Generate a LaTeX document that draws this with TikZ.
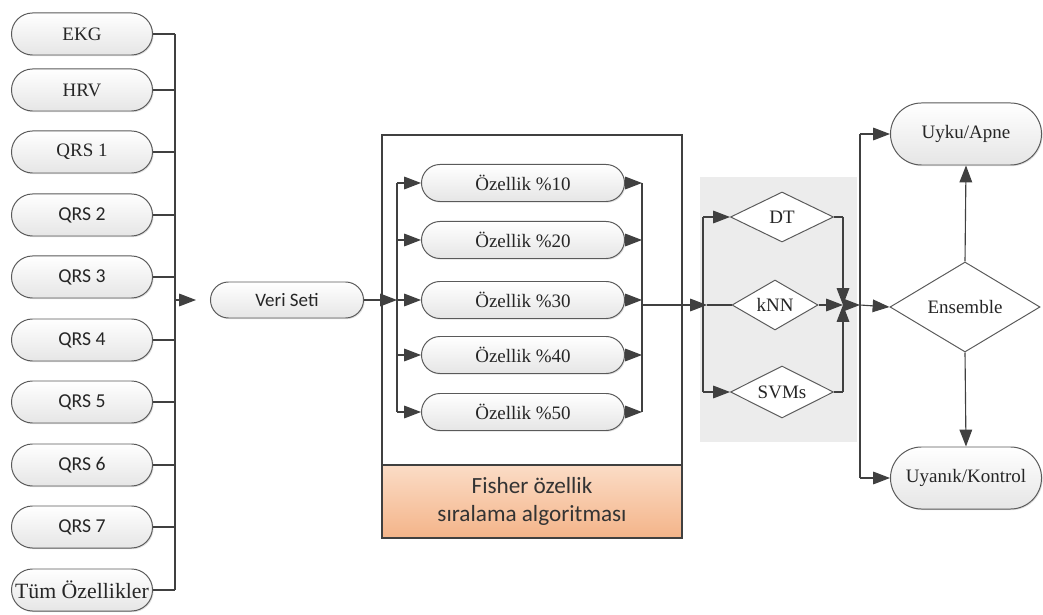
\documentclass[tikz,border=0pt]{standalone}
\usepackage{fontspec}
\setmainfont{Liberation Serif}
\setsansfont{Carlito}
\usepackage{tikz}
\usetikzlibrary{arrows.meta, shapes.misc, shapes.geometric, shadows}
\definecolor{linegray}{HTML}{404040}
\definecolor{boxgray}{HTML}{5A5A5A}
\definecolor{orangetop}{HTML}{FBDCC6}
\definecolor{orangebot}{HTML}{F4B489}
\definecolor{panelgray}{HTML}{ECECEC}
\tikzset{
  pill/.style={rounded rectangle, draw=boxgray, line width=0.7pt, top color=white, bottom color=gray!20,
    drop shadow={shadow xshift=0.8pt, shadow yshift=-0.8pt, opacity=0.25}, inner sep=0pt, text=black!85},
  featbox/.style={pill, minimum width=3.525cm, minimum height=1.05cm},
  pctbox/.style={pill, minimum width=5.075cm, minimum height=0.925cm},
  outbox/.style={pill, minimum width=3.775cm, minimum height=1.55cm},
  clf/.style={diamond, draw=boxgray, line width=0.7pt, fill=white, inner sep=0pt, aspect=2, text=black!85},
  serif/.style={font=\rmfamily\fontsize{13.5}{16}\selectfont},
  sans/.style={font=\sffamily\fontsize{14}{16}\selectfont},
  arr/.style={-{Triangle[length=12pt,width=9pt]}},
  conn/.style={draw=linegray, line width=0.8pt}
}
\begin{document}
\begin{tikzpicture}[x=0.025cm, y=-0.025cm]
\useasboundingbox (0,0) rectangle (1043,615);
\fill[panelgray] (700,177) rectangle (857,442);
\draw[draw=linegray, line width=0.8pt, fill=white] (382,135) rectangle (682,538);
\draw[draw=linegray, line width=0.8pt, top color=orangetop, bottom color=orangebot] (382,465) rectangle (682,538);
\node[font=\sffamily\fontsize{16.5}{20}\selectfont, align=center, text=black!80] (fisher) at (532,501) {Fisher özellik\\sıralama algoritması};

\node[featbox, serif] (ekg) at (82,34) {EKG};
\node[featbox, serif] (hrv) at (82,90) {HRV};
\node[featbox, serif] (qrs1) at (82,152) {QRS 1};
\node[featbox, sans] (qrs2) at (82,215) {QRS 2};
\node[featbox, sans] (qrs3) at (82,277) {QRS 3};
\node[featbox, sans] (qrs4) at (82,340) {QRS 4};
\node[featbox, sans] (qrs5) at (82,402) {QRS 5};
\node[featbox, sans] (qrs6) at (82,465) {QRS 6};
\node[featbox, sans] (qrs7) at (82,527) {QRS 7};
\node[featbox, font=\rmfamily\fontsize{15.5}{18}\selectfont] (tum) at (82,590) {Tüm Özellikler};

\node[pill, minimum width=3.825cm, minimum height=0.9cm, font=\sffamily\fontsize{13.5}{16}\selectfont] (veri) at (287,300) {Veri Seti};

\node[pctbox, serif] (p10) at (523,183) {Özellik \%10};
\node[pctbox, serif] (p20) at (523,240) {Özellik \%20};
\node[pctbox, serif] (p30) at (523,300) {Özellik \%30};
\node[pctbox, serif] (p40) at (523,355) {Özellik \%40};
\node[pctbox, serif] (p50) at (523,412) {Özellik \%50};

\node[clf, serif, minimum width=2.575cm, minimum height=1.25cm] (dt) at (782,217) {DT};
\node[clf, serif, minimum width=2.15cm, minimum height=1.25cm] (knn) at (775,305) {kNN};
\node[clf, serif, minimum width=2.575cm, minimum height=1.3cm] (svm) at (782,392) {SVMs};

\node[clf, serif, minimum width=3.75cm, minimum height=2.25cm] (ens) at (965,307) {Ensemble};
\node[outbox, serif] (uyku) at (966,134) {Uyku/Apne};
\node[outbox, serif] (uyanik) at (966,478) {Uyanık/Kontrol};

\coordinate (busltop) at (175,34);
\coordinate (buslbot) at (175,590);
\coordinate (buslmid) at (175,300);
\coordinate (busltip) at (196,300);
\coordinate (bussin) at (397,300);
\coordinate (busstop) at (397,183);
\coordinate (bussbot) at (397,412);
\coordinate (busotop) at (642,183);
\coordinate (busobot) at (642,412);
\coordinate (busomid) at (642,305);
\coordinate (busc) at (707,305);
\coordinate (busctop) at (703,217);
\coordinate (buscbot) at (703,392);
\coordinate (jn) at (843,305);
\coordinate (jntop) at (843,217);
\coordinate (jnbot) at (843,392);
\coordinate (busr) at (860,305);
\coordinate (busrtop) at (860,134);
\coordinate (busrbot) at (860,478);

\draw[conn] (busltop) -- (buslbot);
\draw[conn] (ekg.east) -- (ekg.east -| busltop);
\draw[conn] (hrv.east) -- (hrv.east -| busltop);
\draw[conn] (qrs1.east) -- (qrs1.east -| busltop);
\draw[conn] (qrs2.east) -- (qrs2.east -| busltop);
\draw[conn] (qrs3.east) -- (qrs3.east -| busltop);
\draw[conn] (qrs4.east) -- (qrs4.east -| busltop);
\draw[conn] (qrs5.east) -- (qrs5.east -| busltop);
\draw[conn] (qrs6.east) -- (qrs6.east -| busltop);
\draw[conn] (qrs7.east) -- (qrs7.east -| busltop);
\draw[conn] (tum.east) -- (tum.east -| busltop);
\draw[conn, arr] (buslmid) -- (busltip);

\draw[conn, arr] (veri.east) -- (bussin);
\draw[conn] (busstop) -- (bussbot);
\draw[conn, arr] (busstop) -- (p10.west);
\draw[conn, arr] (busstop |- p20.west) -- (p20.west);
\draw[conn, arr] (busstop |- p30.west) -- (p30.west);
\draw[conn, arr] (busstop |- p40.west) -- (p40.west);
\draw[conn, arr] (bussbot) -- (p50.west);

\draw[conn] (busotop) -- (busobot);
\draw[conn, arr] (p10.east) -- (busotop);
\draw[conn, arr] (p20.east) -- (p20.east -| busotop);
\draw[conn, arr] (p30.east) -- (p30.east -| busotop);
\draw[conn, arr] (p40.east) -- (p40.east -| busotop);
\draw[conn, arr] (p50.east) -- (busobot);

\draw[conn, arr] (busomid) -- (busc);
\draw[conn] (busc) -- (knn.west);
\draw[conn] (busctop) -- (buscbot);
\draw[conn, arr] (busctop) -- (dt.west);
\draw[conn, arr] (buscbot) -- (svm.west);

\draw[conn] (dt.east) -- (jntop);
\draw[conn, arr] (jntop) -- (jn);
\draw[conn, arr] (knn.east) -- (jn);
\draw[conn] (svm.east) -- (jnbot);
\draw[conn, arr] (jnbot) -- (jn);
\draw[conn, arr] (jn) -- (busr);

\draw[conn] (busrtop) -- (busrbot);
\draw[conn, arr] (busr) -- (ens.west);
\draw[conn, arr] (busrtop) -- (uyku.west);
\draw[conn, arr] (busrbot) -- (uyanik.west);
\draw[conn, arr] (ens.north) -- (uyku.south);
\draw[conn, arr] (ens.south) -- (uyanik.north);
\end{tikzpicture}
\end{document}
